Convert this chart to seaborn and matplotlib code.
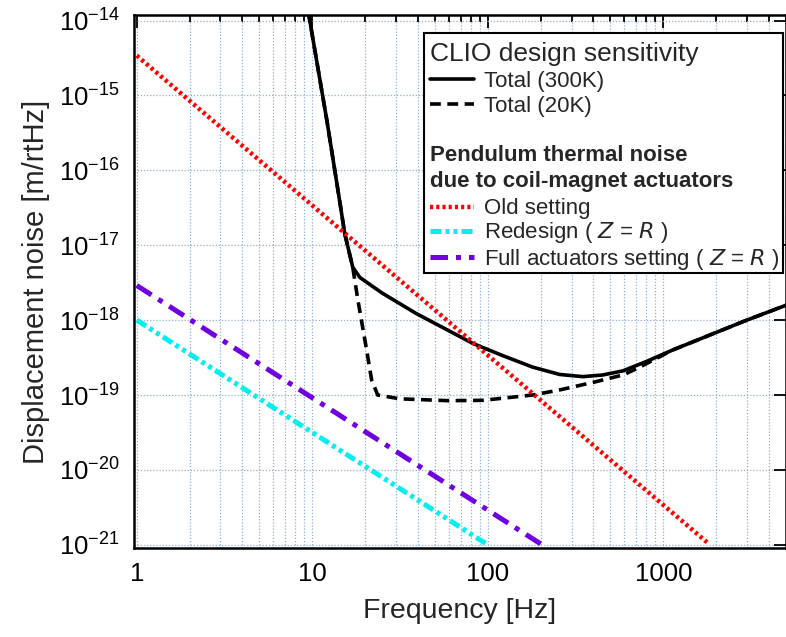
import numpy as np
import pandas as pd
import seaborn as sns
import matplotlib.pyplot as plt
from matplotlib.lines import Line2D
from matplotlib.patches import Rectangle
from matplotlib.ticker import LogLocator, NullLocator, FixedLocator, FixedFormatter

# values (Hz, m/rtHz)
f_300k = [9.5, 9.68, 12.1, 14.3, 15.3, 17.0, 18.7, 25.0, 39.0, 82.0, 120.0, 180.0, 257.0, 348.0,
          450.0, 588.0, 800.0, 1133.0, 2990.0, 5000.0]
x_300k = [1.3e-14, 1.0e-14, 4.7e-16, 4.0e-17, 1.44e-17, 5.1e-18, 3.7e-18, 2.3e-18, 1.23e-18, 4.9e-19,
          3.4e-19, 2.36e-19, 1.88e-19, 1.76e-19, 1.85e-19, 2.1e-19, 2.8e-19, 4.0e-19, 1.0e-18, 1.58e-18]

f_20k = [9.5, 9.68, 12.1, 14.3, 15.3, 17.0, 18.2, 20.4, 21.8, 23.6, 31.6, 60.0, 94.0, 180.0, 257.0,
         400.0, 588.0, 705.0, 1133.0, 2990.0, 5000.0]
x_20k = [1.3e-14, 1.0e-14, 4.7e-16, 4.0e-17, 1.44e-17, 5.1e-18, 1.85e-18, 4.0e-19, 1.58e-19, 1.0e-19,
         8.9e-20, 8.4e-20, 8.5e-20, 1.0e-19, 1.17e-19, 1.48e-19, 1.85e-19, 2.25e-19, 4.0e-19, 1.0e-18, 1.58e-18]

f_old = [1.0, 1800.0]
x_old = [3.4e-15, 1.05e-21]

f_redesign = [1.0, 100.0]
x_redesign = [1.0e-18, 1.0e-21]

f_full = [1.0, 200.0]
x_full = [2.9e-18, 1.03e-21]

ytick_vals = [1e-21, 1e-20, 1e-19, 1e-18, 1e-17, 1e-16, 1e-15, 1e-14]
ytick_labels = [r'$10^{-21}$', r'$10^{-20}$', r'$10^{-19}$', r'$10^{-18}$',
                r'$10^{-17}$', r'$10^{-16}$', r'$10^{-15}$', r'$10^{-14}$']

sns.set_theme(style='white')
plt.rcParams['font.family'] = ['Liberation Sans', 'DejaVu Sans']
plt.rcParams['mathtext.default'] = 'regular'
plt.rcParams['axes.unicode_minus'] = False

fig = plt.figure(figsize=(7.86, 6.37), dpi=100)
ax = fig.add_axes([0.170, 0.140, 0.830, 0.836])

red = '#ff0000'
cyan = '#00f0f0'
purple = '#7000e0'

sns.lineplot(x=f_300k, y=x_300k, ax=ax, color='black', lw=2.6, sort=False, estimator=None)
sns.lineplot(x=f_20k, y=x_20k, ax=ax, color='black', lw=2.6, sort=False,
             estimator=None).lines[-1].set_dashes((3.0, 1.8))
l_old = sns.lineplot(x=f_old, y=x_old, ax=ax, color=red, lw=3.2).lines[-1]
l_old.set_dashes((0.7, 0.7))
l_red = sns.lineplot(x=f_redesign, y=x_redesign, ax=ax, color=cyan, lw=3.6).lines[-1]
l_red.set_dashes((2.2, 0.8, 0.8, 0.8, 0.8, 0.8))
l_full = sns.lineplot(x=f_full, y=x_full, ax=ax, color=purple, lw=3.6).lines[-1]
l_full.set_dashes((3.5, 1.6, 1.0, 1.6))

ax.set_xscale('log')
ax.set_yscale('log')
ax.set_xlim(0.96, 5000)
ax.set_ylim(10 ** -21.04, 10 ** -13.93)

ax.xaxis.set_major_locator(FixedLocator([1, 10, 100, 1000]))
ax.xaxis.set_major_formatter(FixedFormatter(['1', '10', '100', '1000']))
ax.xaxis.set_minor_locator(LogLocator(base=10, subs=np.arange(2, 10)))
ax.yaxis.set_major_locator(FixedLocator(ytick_vals))
ax.yaxis.set_major_formatter(FixedFormatter(ytick_labels))
ax.yaxis.set_minor_locator(NullLocator())

grid_kw = dict(color='#8fb0d0', linestyle=(0, (1, 1.5)), lw=0.9)
ax.grid(True, which='major', axis='both', **grid_kw)
ax.grid(True, which='minor', axis='x', **grid_kw)

ax.tick_params(which='both', direction='in', top=True, right=True, colors='black', width=1.3)
ax.tick_params(which='major', length=9, labelsize=18.5, pad=10)
ax.tick_params(which='minor', length=5)
for s in ax.spines.values():
    s.set_color('black')
    s.set_linewidth(1.8)

ax.set_xlabel('Frequency [Hz]', fontsize=20.5, labelpad=9)
ax.set_ylabel('Displacement noise [m/rtHz]', fontsize=21, labelpad=6)

# legend: one box, two groups
ax.add_patch(Rectangle((0.445, 0.516), 0.550, 0.450, transform=ax.transAxes,
                       facecolor='white', edgecolor='black', lw=1.5, zorder=5))
h1 = [Line2D([], [], color='black', lw=2.6),
      Line2D([], [], color='black', lw=2.6, dashes=(3.0, 1.8))]
leg1 = ax.legend(h1, ['Total (300K)', 'Total (20K)'], loc='upper left',
                 bbox_to_anchor=(0.440, 0.966), frameon=False, fontsize=16,
                 title='CLIO design sensitivity', title_fontsize=19, alignment='left',
                 handlelength=2.0, handletextpad=0.45, labelspacing=0.2, borderaxespad=0)
leg1.set_zorder(6)
ax.add_artist(leg1)
h2 = [Line2D([], [], color=red, lw=3.2, dashes=(0.7, 0.7)),
      Line2D([], [], color=cyan, lw=3.6, dashes=(2.2, 0.8, 0.8, 0.8, 0.8, 0.8)),
      Line2D([], [], color=purple, lw=3.6, dashes=(3.5, 1.6, 1.0, 1.6))]
leg2 = ax.legend(h2, ['Old setting', 'Redesign ( $\\it{Z}$ = $\\it{R}$ )',
                      'Full actuators setting ( $\\it{Z}$ = $\\it{R}$ )'],
                 loc='upper left', bbox_to_anchor=(0.440, 0.774), frameon=False, fontsize=16,
                 title='Pendulum thermal noise\ndue to coil-magnet actuators',
                 title_fontproperties={'weight': 'bold', 'size': 16}, alignment='left',
                 handlelength=2.0, handletextpad=0.45, labelspacing=0.05, borderaxespad=0)
leg2.get_title().set_linespacing(1.35)
leg2._legend_box.sep = 4.5  # a bit more room under the bold heading
leg2.set_zorder(6)

fig.savefig('out.png', dpi=100)
